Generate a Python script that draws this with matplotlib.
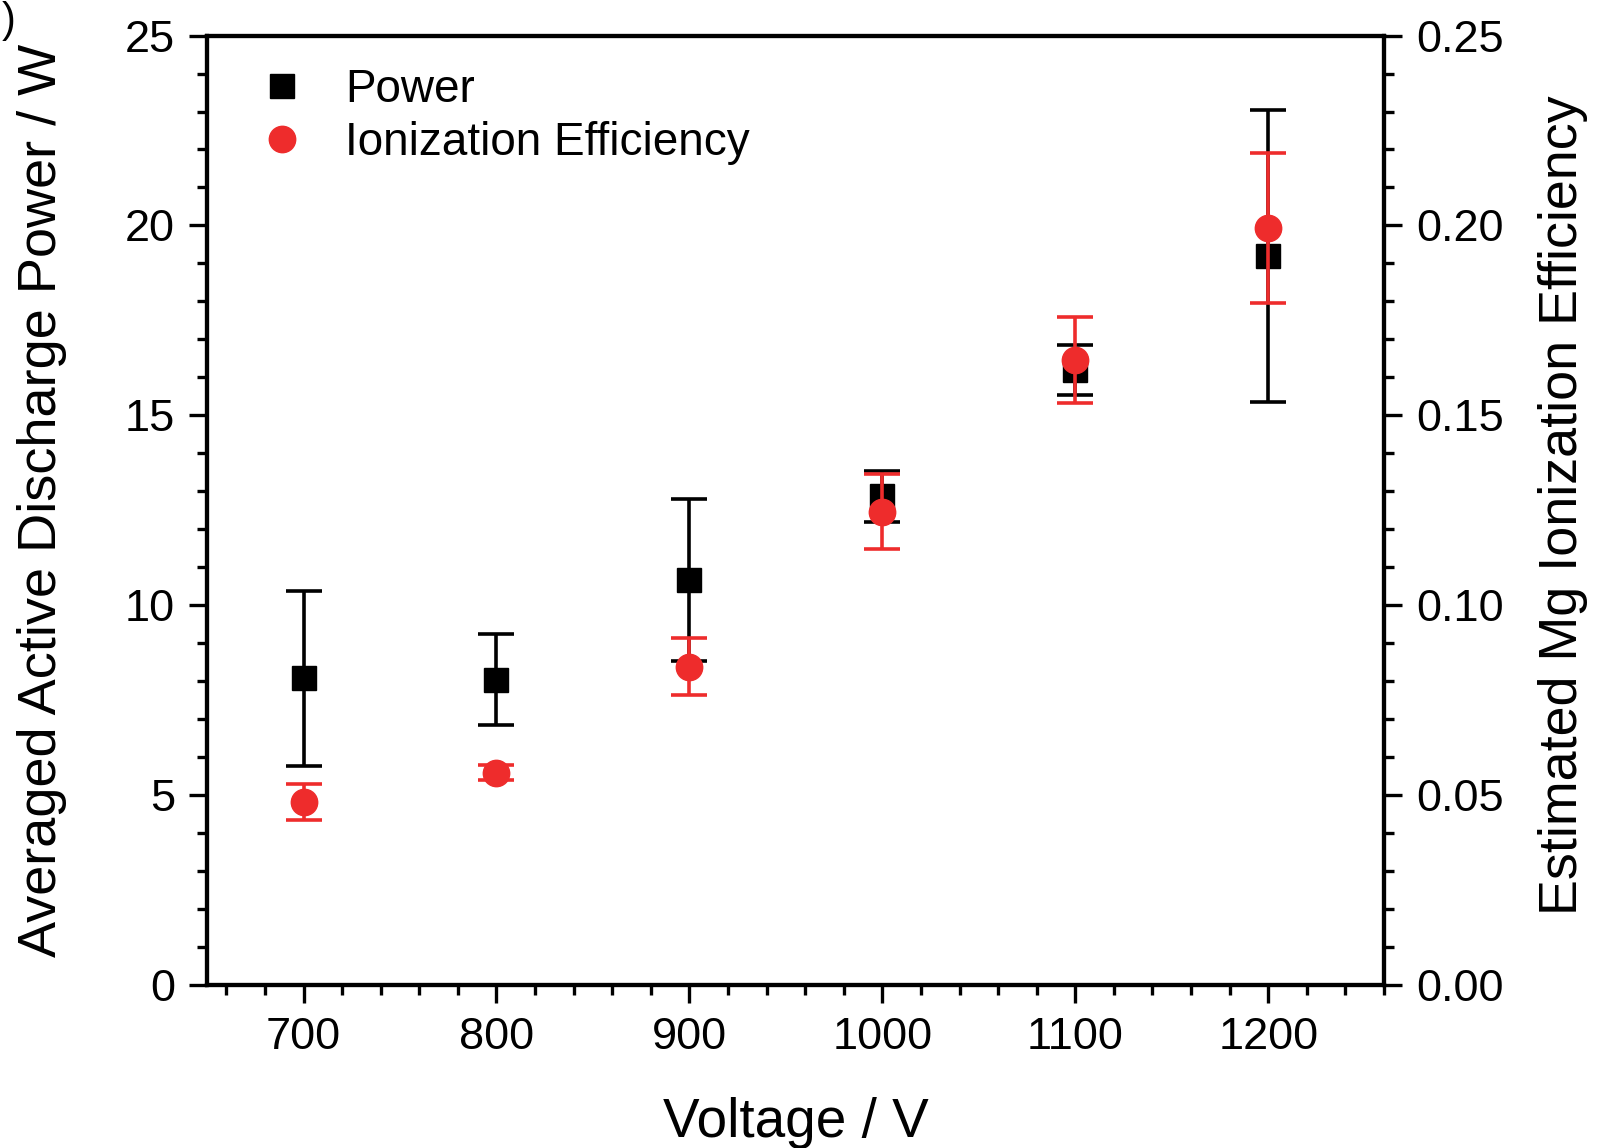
import matplotlib
matplotlib.use("Agg")
import matplotlib.pyplot as plt
from matplotlib.lines import Line2D
from matplotlib.ticker import MultipleLocator, FormatStrFormatter

plt.rcParams['font.family'] = ['Liberation Sans', 'DejaVu Sans']

voltage = [700, 800, 900, 1000, 1100, 1200]
power = [8.07, 8.04, 10.66, 12.87, 16.19, 19.20]
power_err = [2.30, 1.21, 2.14, 0.67, 0.66, 3.84]
efficiency = [0.0482, 0.0559, 0.0838, 0.1246, 0.1646, 0.1993]
efficiency_err = [0.0047, 0.0019, 0.0074, 0.0098, 0.0113, 0.0197]

xticks = [700, 800, 900, 1000, 1100, 1200]
red = '#EE2C2C'

fig = plt.figure(figsize=(16, 11.48), dpi=100)
ax = fig.add_axes([0.1294, 0.1422, 0.7356, 0.8268])
ax2 = ax.twinx()

ax.errorbar(voltage, power, yerr=power_err, fmt='s', color='black', ms=17,
            elinewidth=2.6, capsize=13, capthick=2.6, zorder=3)
ax2.errorbar(voltage, efficiency, yerr=efficiency_err, fmt='o', color=red, ms=19,
             elinewidth=2.6, capsize=13, capthick=2.6, zorder=4)
ax2.patch.set_visible(False)

ax.set_xlim(650, 1260)
ax.set_ylim(0, 25)
ax2.set_ylim(0, 0.25)
ax.set_xticks(xticks)
ax.xaxis.set_minor_locator(MultipleLocator(20))
ax.yaxis.set_major_locator(MultipleLocator(5))
ax.yaxis.set_minor_locator(MultipleLocator(1))
ax2.yaxis.set_major_locator(MultipleLocator(0.05))
ax2.yaxis.set_minor_locator(MultipleLocator(0.01))
ax2.yaxis.set_major_formatter(FormatStrFormatter('%.2f'))

for a in (ax, ax2):
    for s in a.spines.values():
        s.set_linewidth(3)
    a.tick_params(which='major', direction='out', length=13, width=2.4, labelsize=32.5, pad=10)
    a.tick_params(which='minor', direction='out', length=7, width=2.4)
ax.tick_params(axis='x', which='both', top=False)
ax.tick_params(axis='y', which='both', right=False)

ax.set_xlabel('Voltage / V', fontsize=39.5)
ax.set_ylabel('Averaged Active Discharge Power / W', fontsize=39)
ax2.set_ylabel('Estimated Mg Ionization Efficiency', fontsize=38.8)
ax.xaxis.label.set_va('center')
ax.yaxis.label.set_va('center')
ax2.yaxis.label.set_va('center')
ax.xaxis.set_label_coords(0.5, -0.1455)
ax.yaxis.set_label_coords(-0.1400, 0.51)
ax2.yaxis.set_label_coords(1.1525, 0.505)

handles = [Line2D([], [], marker='s', color='black', ls='none', ms=17),
           Line2D([], [], marker='o', color=red, ls='none', ms=19)]
ax2.legend(handles, ['Power', 'Ionization Efficiency'], loc='upper left',
           frameon=False, fontsize=33, bbox_to_anchor=(0.0052, 1.0065),
           borderaxespad=0.45, borderpad=0.4, handlelength=1.3,
           handletextpad=0.73, labelspacing=0.18)

fig.text(0.001, 0.999, ')', fontsize=30, ha='left', va='top')

fig.savefig('out.png', dpi=100)
